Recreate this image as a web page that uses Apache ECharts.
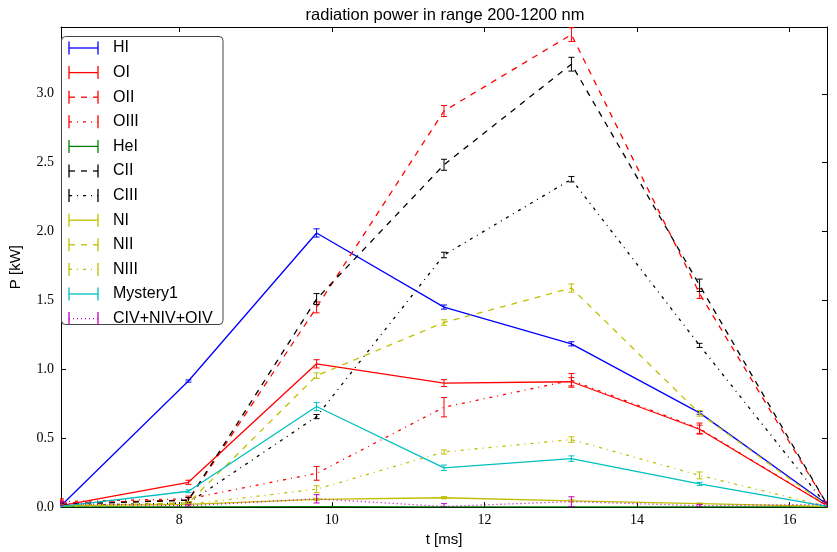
<!DOCTYPE html>
<html>
<head>
<meta charset="utf-8">
<script src="https://cdn.jsdelivr.net/npm/echarts@6/dist/echarts.min.js"></script>
<style>html,body{margin:0;padding:0;background:#fff}#c{width:837px;height:552px}</style>
</head>
<body>
<div id="c"></div>
<script>
// ---- data ----
const times = [6.45, 8.12, 9.80, 11.47, 13.14, 14.82, 16.49];
const xTicks = [8, 10, 12, 14, 16];
const yTicks = [0, 0.5, 1.0, 1.5, 2.0, 2.5, 3.0];

const seriesNames = ['HI', 'OI', 'OII', 'OIII', 'HeI', 'CII', 'CIII', 'NI', 'NII', 'NIII', 'Mystery1', 'CIV+NIV+OIV'];

const HI       = [0.01, 0.915, 1.99, 1.452, 1.185, 0.684, 0.02];
const HI_err   = [0.005, 0.008, 0.03, 0.015, 0.015, 0.01, 0.005];
const OI       = [0.01, 0.18, 1.04, 0.90, 0.91, 0.565, 0.01];
const OI_err   = [0.005, 0.015, 0.03, 0.025, 0.03, 0.03, 0.005];
const OII      = [0.03, 0.05, 1.45, 2.875, 3.43, 1.55, 0.02];
const OII_err  = [0.02, 0.02, 0.04, 0.04, 0.05, 0.035, 0.01];
const OIII     = [0.04, 0.06, 0.245, 0.725, 0.92, 0.57, 0.01];
const OIII_err = [0.02, 0.02, 0.05, 0.07, 0.05, 0.04, 0.01];
const HeI      = [0.002, 0.002, 0.003, 0.002, 0.002, 0.002, 0.001];
const HeI_err  = [0.001, 0.001, 0.001, 0.001, 0.001, 0.001, 0.001];
const CII      = [0.02, 0.05, 1.51, 2.485, 3.215, 1.61, 0.02];
const CII_err  = [0.01, 0.02, 0.04, 0.04, 0.05, 0.045, 0.02];
const CIII     = [0.01, 0.03, 0.657, 1.83, 2.38, 1.174, 0.01];
const CIII_err = [0.005, 0.01, 0.015, 0.02, 0.02, 0.015, 0.005];
const NI       = [0.01, 0.02, 0.056, 0.068, 0.045, 0.025, 0.005];
const NI_err   = [0.003, 0.005, 0.008, 0.008, 0.008, 0.005, 0.003];
const NII      = [0.01, 0.03, 0.954, 1.34, 1.59, 0.68, 0.01];
const NII_err  = [0.005, 0.01, 0.02, 0.02, 0.03, 0.02, 0.005];
const NIII     = [0.005, 0.02, 0.13, 0.40, 0.49, 0.23, 0.005];
const NIII_err = [0.003, 0.005, 0.025, 0.015, 0.02, 0.025, 0.003];
const Mystery1 = [0.005, 0.115, 0.73, 0.285, 0.352, 0.168, 0.005];
const Mystery1_err = [0.003, 0.01, 0.03, 0.02, 0.02, 0.012, 0.003];
const CIV      = [0.025, 0.01, 0.06, 0.005, 0.04, 0.01, 0.02];
const CIV_err  = [0.015, 0.01, 0.03, 0.02, 0.035, 0.01, 0.02];

const seriesValues = [HI, OI, OII, OIII, HeI, CII, CIII, NI, NII, NIII, Mystery1, CIV];
const seriesErrors = [HI_err, OI_err, OII_err, OIII_err, HeI_err, CII_err, CIII_err, NI_err, NII_err, NIII_err, Mystery1_err, CIV_err];

// ---- styles ----
const C = {b:'#0000ff', r:'#ff0000', g:'#008000', k:'#000000', y:'#bfbf00', c:'#00bfbf', m:'#bf00bf'};
const DASH = [6, 6], DASHDOT = [3, 5, 1, 5], DOT = [1, 3], SOLID = null;
const seriesColors = [C.b, C.r, C.r, C.r, C.g, C.k, C.k, C.y, C.y, C.y, C.c, C.m];
const seriesDash   = [SOLID, SOLID, DASH, DASHDOT, SOLID, DASH, DASHDOT, SOLID, DASH, DASHDOT, SOLID, DOT];

const chart = echarts.init(document.getElementById('c'), null, {renderer: 'canvas'});

const series = [];
seriesNames.forEach((name, i) => {
  const col = seriesColors[i];
  series.push({
    type: 'line', name: name,
    data: times.map((t, j) => [t, seriesValues[i][j]]),
    symbol: 'none', clip: true, animation: false,
    lineStyle: {color: col, width: 1.3, type: seriesDash[i] || 'solid'},
    z: 2 + i * 0.01
  });
  series.push({
    type: 'custom', name: name + '_err',
    data: times.map((t, j) => [t, seriesValues[i][j], seriesErrors[i][j]]),
    clip: true, animation: false,
    z: 2 + i * 0.01,
    renderItem: function (params, api) {
      const x = api.value(0), y = api.value(1), e = api.value(2);
      const top = api.coord([x, y + e]);
      const bot = api.coord([x, y - e]);
      const cw = 3;
      const st = {stroke: col, lineWidth: 1};
      return {type: 'group', children: [
        {type: 'line', shape: {x1: top[0], y1: top[1], x2: bot[0], y2: bot[1]}, style: st},
        {type: 'line', shape: {x1: top[0] - cw, y1: top[1], x2: top[0] + cw, y2: top[1]}, style: st},
        {type: 'line', shape: {x1: bot[0] - cw, y1: bot[1], x2: bot[0] + cw, y2: bot[1]}, style: st}
      ]};
    }
  });
});

// ---- legend drawn as graphic ----
const legendChildren = [{
  type: 'rect', shape: {x: 61.5, y: 36.5, width: 161.5, height: 288, r: 4},
  style: {fill: '#fff', stroke: '#444', lineWidth: 1}, z: 10
}];
seriesNames.forEach((name, i) => {
  const yy = 48 + i * 24.6;
  const col = seriesColors[i];
  const st = {stroke: col, lineWidth: 1.3};
  legendChildren.push({type: 'line', shape: {x1: 69, y1: yy - 6.5, x2: 69, y2: yy + 6.5}, style: st, z: 11});
  legendChildren.push({type: 'line', shape: {x1: 98, y1: yy - 6.5, x2: 98, y2: yy + 6.5}, style: st, z: 11});
  legendChildren.push({type: 'line', shape: {x1: 69, y1: yy, x2: 98, y2: yy},
    style: {stroke: col, lineWidth: 1.3, lineDash: seriesDash[i] || null}, z: 11});
  legendChildren.push({type: 'text', x: 113, y: yy,
    style: {text: name, fill: '#000', font: '16px "Liberation Sans", Arial, sans-serif', textVerticalAlign: 'middle'}, z: 11});
});

const tickFont = {fontFamily: '"Liberation Serif", "DejaVu Serif", serif', fontSize: 14, color: '#000'};

const option = {
  animation: false,
  backgroundColor: '#fff',
  title: {
    text: 'radiation power in range 200-1200 nm',
    left: 440, top: 2, textAlign: 'center',
    textStyle: {fontFamily: '"Liberation Sans", Arial, sans-serif', fontSize: 16.5, fontWeight: 'normal', color: '#000'}
  },
  grid: {left: 53, right: 10, top: 27, bottom: 44, containLabel: false},
  xAxis: [{
    type: 'value', min: 6.45, max: 16.49,
    name: 't [ms]', nameLocation: 'middle', nameGap: 24,
    nameTextStyle: {fontFamily: '"Liberation Sans", Arial, sans-serif', fontSize: 15, color: '#000'},
    axisLine: {show: true, onZero: false, lineStyle: {color: '#000', width: 1}},
    axisTick: {show: true, inside: true, length: 5, customValues: xTicks, lineStyle: {color: '#000'}},
    axisLabel: {customValues: xTicks, margin: 6, ...tickFont},
    splitLine: {show: false}
  }, {
    type: 'value', min: 6.45, max: 16.49, position: 'top',
    axisLine: {show: true, onZero: false, lineStyle: {color: '#000', width: 1}},
    axisTick: {show: true, inside: true, length: 5, customValues: xTicks, lineStyle: {color: '#000'}},
    axisLabel: {show: false}, splitLine: {show: false}
  }],
  yAxis: [{
    type: 'value', min: 0, max: 3.485,
    name: 'P [kW]', nameLocation: 'middle', nameGap: 38,
    nameTextStyle: {fontFamily: '"Liberation Sans", Arial, sans-serif', fontSize: 15, color: '#000'},
    axisLine: {show: true, onZero: false, lineStyle: {color: '#000', width: 1}},
    axisTick: {show: true, inside: true, length: 5, customValues: yTicks, lineStyle: {color: '#000'}},
    axisLabel: {customValues: yTicks, margin: 7, formatter: v => v.toFixed(1), ...tickFont},
    splitLine: {show: false}
  }, {
    type: 'value', min: 0, max: 3.485, position: 'right',
    axisLine: {show: true, onZero: false, lineStyle: {color: '#000', width: 1}},
    axisTick: {show: true, inside: true, length: 5, customValues: yTicks, lineStyle: {color: '#000'}},
    axisLabel: {show: false}, splitLine: {show: false}
  }],
  series: series,
  graphic: [{type: 'group', children: legendChildren}]
};
chart.setOption(option);
</script>
</body>
</html>
